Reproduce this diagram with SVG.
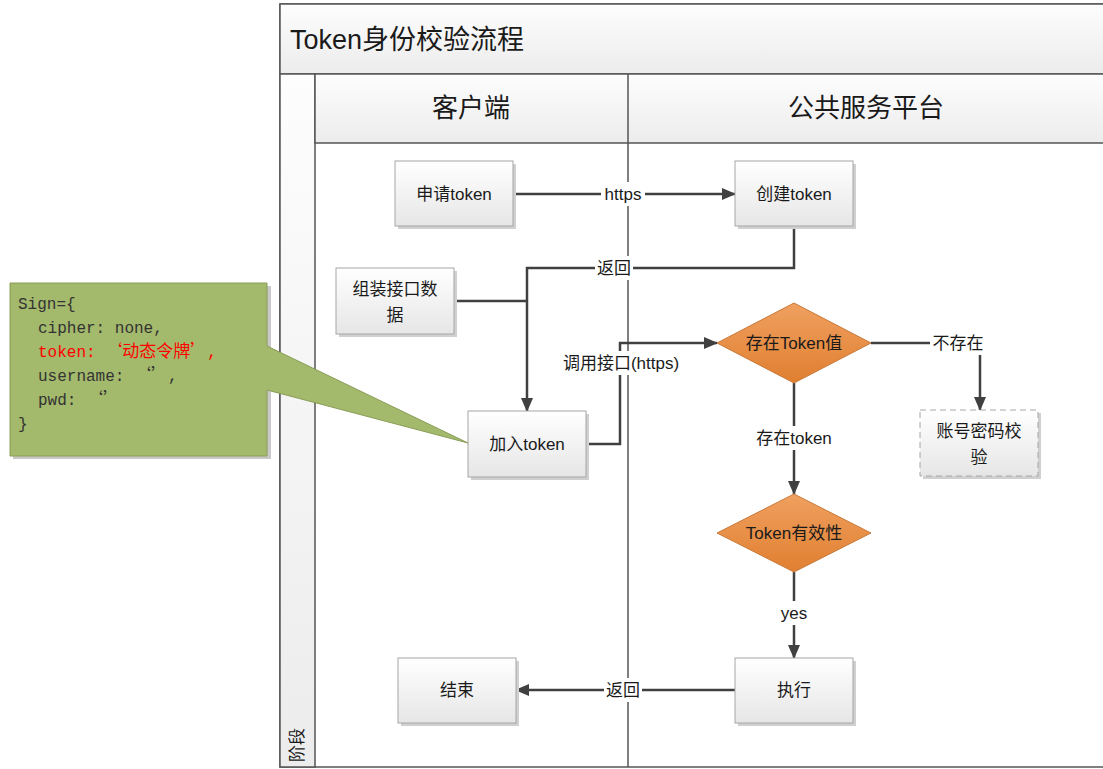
<svg xmlns="http://www.w3.org/2000/svg" width="1103" height="769" viewBox="0 0 1103 769">
<defs>
<linearGradient id="gNode" x1="0" y1="0" x2="0" y2="1"><stop offset="0" stop-color="#ffffff"/><stop offset="1" stop-color="#e6e6e6"/></linearGradient>
<linearGradient id="gBand" x1="0" y1="0" x2="0" y2="1"><stop offset="0" stop-color="#fdfdfd"/><stop offset="1" stop-color="#ececec"/></linearGradient>
<linearGradient id="gDia" x1="0" y1="0" x2="0" y2="1"><stop offset="0" stop-color="#f0a060"/><stop offset="1" stop-color="#e07f30"/></linearGradient>
<marker id="arr" viewBox="0 0 14 12" refX="13" refY="6" markerWidth="14" markerHeight="12" markerUnits="userSpaceOnUse" orient="auto"><path d="M0,0 L14,6 L0,12 Z" fill="#404040"/></marker>
</defs>
<style>
.t{font-family:"Liberation Sans","Noto Sans CJK SC",sans-serif;fill:#1a1a1a}
.node{fill:url(#gNode);stroke:#a6a6a6;stroke-width:1}
.sh{fill:#d0d0d0}
.dia{fill:url(#gDia);stroke:#c87a3a;stroke-width:1}
.ln{fill:none;stroke:#404040;stroke-width:2.5}
.lb{fill:#ffffff}
.frame{stroke:#555555;stroke-width:1.5}
.code{font-family:"Liberation Mono","Noto Sans CJK SC",monospace;font-size:16px;fill:#333333}
.red{fill:#ff0000}
.cq{font-family:"Noto Sans CJK SC",sans-serif;font-size:17px}
</style>
<rect width="1103" height="769" fill="#ffffff"/>
<g id="pool">
<rect x="280" y="4" width="830" height="763" fill="#ffffff" class="frame"/>
<rect x="280" y="4" width="830" height="70" fill="url(#gBand)" class="frame"/>
<text x="290" y="49" class="t" font-size="27">Token身份校验流程</text>
<rect x="280" y="74" width="35" height="693" fill="url(#gBand)" class="frame"/>
<text class="t" font-size="17" transform="translate(303,762) rotate(-90)">阶段</text>
<rect x="315" y="74" width="795" height="69" fill="url(#gBand)" class="frame"/>
<text x="471" y="117" class="t" font-size="26" text-anchor="middle">客户端</text>
<text x="866" y="117" class="t" font-size="26" text-anchor="middle">公共服务平台</text>
<line x1="628" y1="74" x2="628" y2="767" class="frame"/>
</g>
<g id="connectors">
<path d="M513,194 L735,194" class="ln" marker-end="url(#arr)"/>
<path d="M794,226 L794,268 L527,268 L527,411" class="ln" marker-end="url(#arr)"/>
<path d="M454,301 L527,301" class="ln"/>
<path d="M586,444 L620,444 L620,343 L717,343" class="ln" marker-end="url(#arr)"/>
<path d="M871,343 L980,343 L980,410" class="ln" marker-end="url(#arr)"/>
<path d="M794,383 L794,494" class="ln" marker-end="url(#arr)"/>
<path d="M794,572 L794,658" class="ln" marker-end="url(#arr)"/>
<path d="M735,690 L516,690" class="ln" marker-end="url(#arr)"/>
<rect x="601" y="182" width="44" height="24" class="lb"/>
<text x="623" y="200" class="t" font-size="17" text-anchor="middle">https</text>
<rect x="595" y="256" width="38" height="24" class="lb"/>
<text x="614" y="274" class="t" font-size="17" text-anchor="middle">返回</text>
<rect x="554" y="351" width="134" height="24" class="lb"/>
<text x="621" y="369" class="t" font-size="17" text-anchor="middle">调用接口(https)</text>
<rect x="930" y="331" width="56" height="24" class="lb"/>
<text x="958" y="349" class="t" font-size="17" text-anchor="middle">不存在</text>
<rect x="750" y="426" width="88" height="24" class="lb"/>
<text x="794" y="444" class="t" font-size="17" text-anchor="middle">存在token</text>
<rect x="778" y="601" width="32" height="24" class="lb"/>
<text x="794" y="619" class="t" font-size="17" text-anchor="middle">yes</text>
<rect x="604" y="678" width="38" height="24" class="lb"/>
<text x="623" y="696" class="t" font-size="17" text-anchor="middle">返回</text>
</g>
<g id="n-apply">
<rect x="398" y="164" width="118" height="65" class="sh"/>
<rect x="395" y="161" width="118" height="65" class="node"/>
<text x="454" y="200" class="t" font-size="17" text-anchor="middle">申请token</text>
</g>
<g id="n-create">
<rect x="738" y="164" width="118" height="65" class="sh"/>
<rect x="735" y="161" width="118" height="65" class="node"/>
<text x="794" y="200" class="t" font-size="17" text-anchor="middle">创建token</text>
</g>
<g id="n-assemble">
<rect x="339" y="271" width="118" height="66" class="sh"/>
<rect x="336" y="268" width="118" height="66" class="node"/>
<text x="395" y="295" class="t" font-size="17" text-anchor="middle">组装接口数</text>
<text x="395" y="321" class="t" font-size="17" text-anchor="middle">据</text>
</g>
<g id="n-add">
<rect x="471" y="414" width="118" height="66" class="sh"/>
<rect x="468" y="411" width="118" height="66" class="node"/>
<text x="527" y="450" class="t" font-size="17" text-anchor="middle">加入token</text>
</g>
<g id="n-exists">
<polygon points="794,303 871,343 794,383 717,343" class="dia"/>
<text x="794" y="349" class="t" font-size="17" text-anchor="middle">存在Token值</text>
</g>
<g id="n-account">
<rect x="923" y="413" width="118" height="66" class="sh"/>
<rect x="920" y="410" width="118" height="66" fill="url(#gNode)" stroke="#a6a6a6" stroke-width="1" stroke-dasharray="6,4"/>
<text x="979" y="437" class="t" font-size="17" text-anchor="middle">账号密码校</text>
<text x="979" y="463" class="t" font-size="17" text-anchor="middle">验</text>
</g>
<g id="n-valid">
<polygon points="794,494 871,533 794,572 717,533" class="dia"/>
<text x="794" y="539" class="t" font-size="17" text-anchor="middle">Token有效性</text>
</g>
<g id="n-exec">
<rect x="738" y="661" width="118" height="65" class="sh"/>
<rect x="735" y="658" width="118" height="65" class="node"/>
<text x="794" y="696" class="t" font-size="17" text-anchor="middle">执行</text>
</g>
<g id="n-end">
<rect x="401" y="661" width="118" height="65" class="sh"/>
<rect x="398" y="658" width="118" height="65" class="node"/>
<text x="457" y="696" class="t" font-size="17" text-anchor="middle">结束</text>
</g>
<g id="callout">
<rect x="13" y="286" width="258" height="173" fill="#c8c8c8"/>
<path d="M10,283 L267,283 L267,346 L468,443 L267,390 L267,456 L10,456 Z" fill="#a3b96b" stroke="#8a9e58" stroke-width="1"/>
<text class="code" x="18" y="309">Sign={</text>
<text class="code" x="38" y="333">cipher: none,</text>
<text class="code red" x="38" y="357">token: <tspan class="cq">‘动态令牌’</tspan>,</text>
<text class="code" x="38" y="381">username: <tspan class="cq">‘’</tspan>,</text>
<text class="code" x="38" y="405">pwd: <tspan class="cq">‘’</tspan></text>
<text class="code" x="18" y="429">}</text>
</g>
</svg>
